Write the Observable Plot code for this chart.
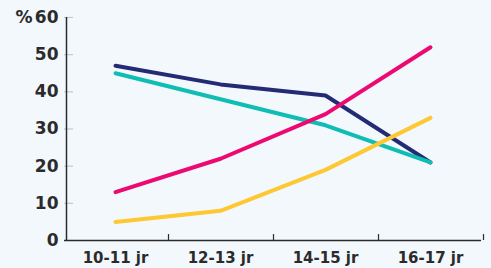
<!DOCTYPE html>
<html><head><meta charset="utf-8">
<script src="https://cdn.jsdelivr.net/npm/d3@7"></script>
<script src="https://cdn.jsdelivr.net/npm/@observablehq/plot@0.6"></script>
<style>
html,body{margin:0;padding:0;background:#f3f8fd;}
#chart{width:491px;height:268px;}
svg{font-family:"DejaVu Sans",sans-serif;}
</style></head><body><div id="chart"></div>
<script>
const categories = ["10-11 jr", "12-13 jr", "14-15 jr", "16-17 jr"];
const navy = [47, 42, 39, 21];
const teal = [45, 38, 31, 21];
const pink = [13, 22, 34, 52];
const yellow = [5, 8, 19, 33];
const yTicks = [0, 10, 20, 30, 40, 50, 60];
const seriesNames = ["s1", "s2", "s3", "s4"];
const seriesColors = ["#232b74", "#0fbdb5", "#ec0a72", "#fec833"];

const rows = [];
[navy, teal, pink, yellow].forEach((vals, s) => {
  vals.forEach((v, i) => rows.push({series: seriesNames[s], cat: categories[i], value: v}));
});

const chart = Plot.plot({
  width: 491,
  height: 268,
  marginLeft: 64,
  marginRight: 10,
  marginTop: 17,
  marginBottom: 28,
  style: {background: "transparent", fontFamily: "'DejaVu Sans', sans-serif"},
  x: {type: "point", domain: categories, padding: 0.47, axis: null},
  y: {domain: [0, 60], axis: null},
  color: {type: "ordinal", domain: seriesNames, range: seriesColors},
  marks: [
    Plot.tickY(yTicks.filter(d => d > 0), {y: d => d, stroke: "#c4c9cf", strokeWidth: 1.2, insetRight: 408}),
    Plot.text(yTicks, {y: d => d, frameAnchor: "left", dx: -6, textAnchor: "end", text: d => String(d), fontSize: 17, fontWeight: "bold", fill: "#2b2b2b"}),
    Plot.text(["%"], {y: [60], frameAnchor: "left", dx: -32, textAnchor: "end", text: d => d, fontSize: 17, fontWeight: "bold", fill: "#2b2b2b"}),
    Plot.ruleX([categories[0]], {x: d => d, dx: -49, y1: 0, y2: 60, stroke: "#2b2b2b", strokeWidth: 1.5}),
    Plot.ruleY([0], {stroke: "#2b2b2b", strokeWidth: 1.5}),
    Plot.ruleX(categories, {x: d => d, dx: 53, y1: 0, y2: 1.6, stroke: "#2b2b2b", strokeWidth: 1.2}),
    Plot.text(categories, {x: d => d, frameAnchor: "bottom", dy: 22, text: d => d, fontSize: 15, fontWeight: "bold", fill: "#2b2b2b"}),
    Plot.line(rows, {x: "cat", y: "value", z: "series", stroke: "series", strokeWidth: 4, strokeLinecap: "round", strokeLinejoin: "round"})
  ]
});
document.getElementById("chart").appendChild(chart);
</script></body></html>
